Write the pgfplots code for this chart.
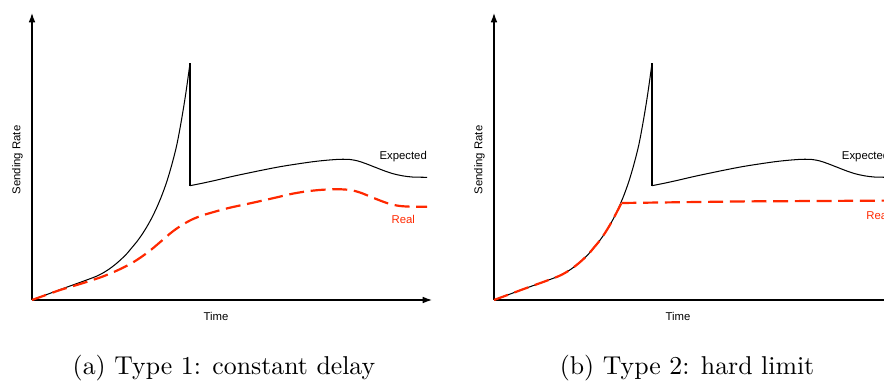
\documentclass[border=0pt]{standalone}
\usepackage{fontspec}
\usepackage{pgfplots}
\pgfplotsset{compat=1.18}
\usetikzlibrary{arrows.meta}
\newfontfamily\hv{Liberation Sans}
\definecolor{realred}{RGB}{255,40,0}

% Expected sending rate: slow start, spike, drop, then slow drift
\pgfplotstableread{
x y
0 0
10 3.7
20 7.4
30 11.1
40 14.7
50 18.3
60 22
65 24
70 26.5
75 29.5
80 33
85 37
90 41.5
95 46.5
100 52.5
105 58.5
110 65.5
115 73.5
120 82.5
125 93
130 105
135 119
140 136
145 156
150 183
154 208
158 236.7
}\exprise
\pgfplotstableread{
x y
158 236.7
158 114.3
}\expdrop
\pgfplotstableread{
x y
158 114.3
170 116.7
185 120
200 123.5
215 126.7
230 129.8
248 133.3
265 136
281 138.3
295 139.8
308 140.7
318 140.5
326 139
334 136.3
343 132.8
352 129.3
361 126.3
370 124.3
380 123
395 122.7
}\exptail
% Real rate, type 1: constant delay
\pgfplotstableread{
x y
0 0
10 3.6
20 7.2
30 10.6
40 13.6
50 16.6
60 19.8
70 23.2
80 27.2
90 31.8
100 37
110 43.5
120 51
130 59.5
140 68
150 75
160 80.5
170 84.5
180 87.5
190 90.3
200 92.8
215 96
230 99.3
245 102.7
260 106.2
275 108.7
290 110.2
305 110.8
318 110
328 107.5
338 103.5
348 99.5
358 96
368 94
380 93.3
395 93.3
}\realA
% Real rate, type 2: hard limit
\pgfplotstableread{
x y
0 0
10 3.7
20 7.4
30 11.1
40 14.7
50 18.3
60 22
65 24
70 26.5
75 29.5
80 33
85 37
90 41.5
95 46.5
100 52.5
105 58.5
110 65.5
115 73.5
120 82.5
127.5 97
}\realBrise
\pgfplotstableread{
x y
127.5 97
250 98.6
395 99.4
}\realBflat

\tikzset{lbl/.style={font=\hv\fontsize{4.4}{5}\selectfont, inner sep=0pt}}

\pgfplotsset{
  rateaxis/.style={
    axis lines=left,
    x=0.3876pt, y=0.3876pt,
    xmin=0, xmax=400, ymin=0, ymax=287,
    enlargelimits=false,
    xtick=\empty, ytick=\empty,
    clip=false,
    anchor=south west,
    axis line style={line width=0.45pt},
    every outer x axis line/.append style={-{Latex[length=3.6pt,width=2.6pt]}},
    every outer y axis line/.append style={-{Latex[length=3.6pt,width=2.6pt]}},
  },
  expected/.style={black, line width=0.4pt, mark=none},
  real/.style={realred, line width=0.85pt, dash pattern=on 5.8pt off 2.6pt, mark=none},
}

\begin{document}
\begin{tikzpicture}[x=0.3876pt, y=0.3876pt]
\useasboundingbox (0,0) rectangle (884,380);
\clip (0,0) rectangle (884,380);

% (a) constant delay
\begin{axis}[rateaxis, at={(32,80)}]
  \addplot[expected, smooth] table {\exprise};
  \addplot[expected] table {\expdrop};
  \addplot[expected, smooth] table {\exptail};
  \addplot[real, smooth] table {\realA};
  \node[lbl] at (axis cs:184,-16) {Time};
  \node[lbl, rotate=90] at (axis cs:-14.5,140) {Sending Rate};
  \node[lbl] at (axis cs:371.2,143.5) {Expected};
  \node[lbl, text=realred] at (axis cs:371.3,81) {Real};
\end{axis}

% (b) hard limit
\begin{axis}[rateaxis, at={(494,80)}]
  \addplot[expected, smooth] table {\exprise};
  \addplot[expected] table {\expdrop};
  \addplot[expected, smooth] table {\exptail};
  \addplot[real, smooth] table {\realBrise};
  \addplot[real] table {\realBflat};
  \node[lbl] at (axis cs:184,-16) {Time};
  \node[lbl, rotate=90] at (axis cs:-14.5,140) {Sending Rate};
  \node[lbl] at (axis cs:371.6,143.5) {Expected};
  \node[lbl, text=realred] at (axis cs:384,85) {Real};
\end{axis}

\node[anchor=base, font=\fontsize{10}{12}\selectfont] at (224,6) {(a) Type 1: constant delay};
\node[anchor=base, font=\fontsize{10}{12}\selectfont] at (687,6) {(b) Type 2: hard limit};
\end{tikzpicture}
\end{document}
